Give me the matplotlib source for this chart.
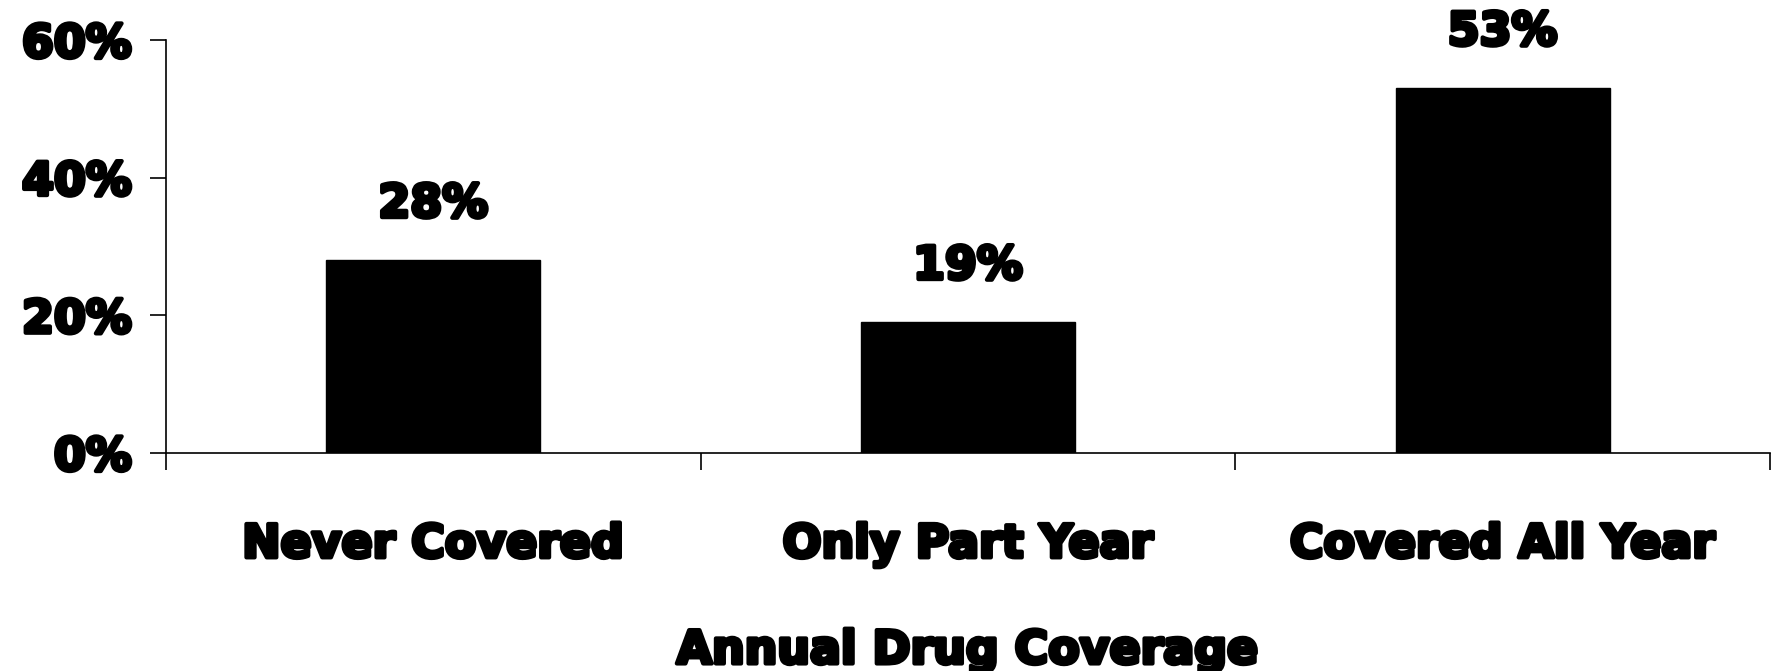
import numpy as np
import matplotlib
matplotlib.use("Agg")
import matplotlib.pyplot as plt
import matplotlib.patheffects as pe
from matplotlib.ticker import FixedLocator, PercentFormatter

categories = ["Never Covered", "Only Part Year", "Covered All Year"]
shares = [0.28, 0.19, 0.53]
value_labels = ["28%", "19%", "53%"]
y_ticks = [0.0, 0.2, 0.4, 0.6]
x_title = "Annual Drug Coverage"

plt.rcParams['font.family'] = ['DejaVu Sans']
# thick outline to get the "Arial Black" look
heavy = [pe.withStroke(linewidth=3.0, foreground="black")]
FS = 33
txt = dict(fontsize=FS, fontweight="bold", color="black", path_effects=heavy)

fig = plt.figure(figsize=(17.71, 6.71), dpi=100)
ax = fig.add_axes([0.0937, 0.325, 0.9057, 0.6155])

x = np.arange(len(categories))
ax.bar(x, shares, width=0.4, color="black", edgecolor="black")

for xi, v, lab in zip(x, shares, value_labels):
    ax.annotate(lab, (xi, v), xytext=(0, 40), textcoords="offset points",
                ha="center", va="center", **txt)

ax.set_xlim(-0.5, len(categories) - 0.5)
ax.set_ylim(0, 0.6)

ax.spines["top"].set_visible(False)
ax.spines["right"].set_visible(False)
for s in ("left", "bottom"):
    ax.spines[s].set_linewidth(1.2)

ax.set_yticks(y_ticks)
ax.yaxis.set_major_formatter(PercentFormatter(1.0, decimals=0))
ax.tick_params(axis="y", length=11.5, width=1.2, pad=13)

ax.set_xticks(x)
ax.set_xticklabels(categories)
ax.xaxis.set_minor_locator(FixedLocator(np.arange(-0.5, len(categories), 1.0)))
ax.tick_params(axis="x", which="major", length=0, pad=50)
ax.tick_params(axis="x", which="minor", length=12, width=1.2)

for lab in ax.get_xticklabels() + ax.get_yticklabels():
    lab.set_fontsize(FS)
    lab.set_fontweight("bold")
    lab.set_path_effects(heavy)

ax.set_xlabel(x_title, labelpad=44, **txt)

fig.savefig("out.png", dpi=100, facecolor="white")
